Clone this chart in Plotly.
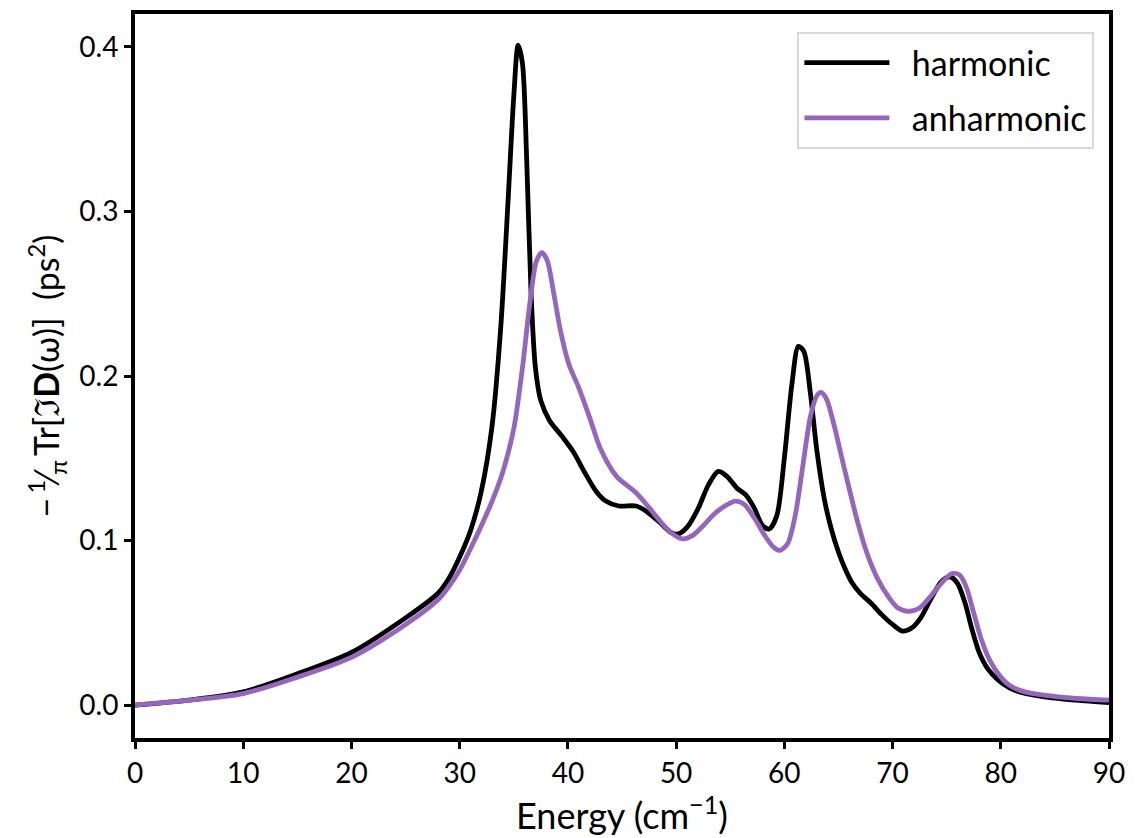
import plotly.graph_objects as go

# Energy grid (cm^-1) and spectral function values for each model
energy_harm = [0, 5, 10, 15, 20, 25, 28, 29, 30, 31, 32, 33, 33.8, 34.5, 35, 35.4, 35.8, 36.2,
               36.6, 37, 37.5, 38.3, 39.5, 40.5, 41.5, 42.6, 43.5, 44.7, 46.3, 47.2, 48.5, 49.5,
               50.2, 51, 52, 53, 53.9, 54.7, 55.6, 56.4, 57.2, 58, 58.6, 59.3, 60, 60.7, 61.3,
               61.8, 62.4, 63, 63.7, 64.3, 65, 65.6, 66.2, 67, 68, 69, 70, 70.9, 71.8, 72.6, 73.5,
               74.5, 75.3, 76, 76.7, 77.3, 78, 78.8, 79.8, 80.8, 82, 84, 87, 90]
harmonic = [0.0, 0.003, 0.008, 0.019, 0.032, 0.053, 0.068, 0.077, 0.09, 0.106, 0.13, 0.17,
            0.23, 0.31, 0.37, 0.401, 0.39, 0.33, 0.25, 0.205, 0.185, 0.173, 0.163, 0.154, 0.142,
            0.130, 0.124, 0.121, 0.121, 0.118, 0.111, 0.105, 0.104, 0.108, 0.119, 0.134, 0.142,
            0.139, 0.132, 0.128, 0.120, 0.109, 0.107, 0.115, 0.150, 0.195, 0.218, 0.215, 0.190,
            0.155, 0.125, 0.108, 0.093, 0.083, 0.075, 0.068, 0.062, 0.055, 0.049, 0.045, 0.047,
            0.053, 0.064, 0.075, 0.078, 0.074, 0.062, 0.047, 0.032, 0.022, 0.015, 0.0105,
            0.0075, 0.005, 0.003, 0.0015]

energy_anh = [0, 5, 10, 15, 20, 25, 28, 29, 30, 31, 32, 33, 34, 35, 35.8, 36.5, 37.1, 37.6,
              38.1, 38.7, 39.3, 40.1, 41, 42, 43, 44.5, 46.3, 47.5, 48.5, 49.5, 50.6, 51.5, 52.5,
              53.5, 54.5, 55.5, 56.3, 57.2, 58.2, 59, 59.6, 60.3, 61, 61.7, 62.4, 63, 63.4, 63.9,
              64.6, 65.5, 66.7, 67.6, 68.6, 69.6, 70.5, 71.5, 72.5, 73.5, 74.5, 75.5, 76.2, 76.8,
              77.5, 78.2, 79, 80, 80.8, 82, 84, 87, 90]
anharmonic = [0.0, 0.003, 0.007, 0.017, 0.029, 0.049, 0.064, 0.072, 0.082, 0.095, 0.109, 0.124,
              0.142, 0.168, 0.205, 0.245, 0.270, 0.275, 0.270, 0.250, 0.228, 0.207, 0.193, 0.175,
              0.156, 0.139, 0.129, 0.120, 0.112, 0.105, 0.101, 0.103, 0.109, 0.116, 0.121, 0.124,
              0.122, 0.114, 0.103, 0.096, 0.094, 0.098, 0.115, 0.145, 0.175, 0.188, 0.190, 0.186,
              0.170, 0.145, 0.113, 0.093, 0.077, 0.066, 0.059, 0.057, 0.059, 0.066, 0.074, 0.080,
              0.079, 0.072, 0.056, 0.040, 0.027, 0.017, 0.012, 0.0085, 0.006, 0.004, 0.003]

x_ticks = [0, 10, 20, 30, 40, 50, 60, 70, 80, 90]
y_ticks = [0.0, 0.1, 0.2, 0.3, 0.4]

FONT = "Lato"
GAP = "\u00a0\u00a0"  # spacing between legend line sample and label

fig = go.Figure()
fig.add_trace(go.Scatter(x=energy_harm, y=harmonic, mode="lines", name=GAP + "harmonic",
                         legendgroup="harm",
                         line=dict(color="black", width=4.8, shape="spline", smoothing=0.8)))
fig.add_trace(go.Scatter(x=energy_anh, y=anharmonic, mode="lines", name=GAP + "anharmonic",
                         legendgroup="anh",
                         line=dict(color="#9467bd", width=4.8, shape="spline", smoothing=0.8)))

axis_common = dict(showline=True, linecolor="black", linewidth=4, mirror=True,
                   ticks="outside", ticklen=7, tickwidth=3, tickcolor="black",
                   showgrid=False, zeroline=False,
                   tickfont=dict(family=FONT, size=28, color="black"))

fig.update_layout(
    width=1135, height=838,
    margin=dict(l=135, r=18, t=10, b=98),
    paper_bgcolor="white", plot_bgcolor="white",
    font=dict(family=FONT, color="black"),
    xaxis=dict(range=[0, 90], tickvals=x_ticks, ticktext=[str(v) for v in x_ticks],
               title=dict(text="Energy (cm<sup>−1</sup>)", font=dict(family=FONT, size=36),
                          standoff=14),
               **axis_common),
    yaxis=dict(range=[-0.02, 0.42], tickvals=y_ticks, ticktext=[f"{v:.1f}" for v in y_ticks],
               title=dict(text="−\u2009<sup>1</sup>⁄<sub>π</sub>\u2009Tr[ℑ<b>D</b>(ω)]\u00a0\u00a0(ps<sup>2</sup>)",
                          font=dict(family=FONT, size=34), standoff=10),
               **axis_common),
    legend=dict(x=0.985, y=0.975, xanchor="right", yanchor="top",
                bgcolor="white", bordercolor="#d9d9d9", borderwidth=2,
                font=dict(family=FONT, size=34, color="black"),
                itemwidth=85, tracegroupgap=8),
    showlegend=True,
)

fig.write_html("out.html")
